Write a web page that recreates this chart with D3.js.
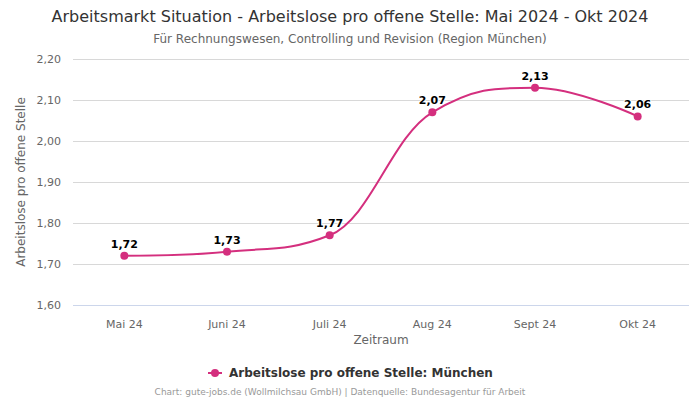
<!DOCTYPE html>
<html><head><meta charset="utf-8">
<script src="https://cdn.jsdelivr.net/npm/d3@7"></script>
<style>body{margin:0;background:#fff;font-family:"DejaVu Sans",sans-serif}</style>
</head><body><svg id="c" width="700" height="400"></svg>
<script>
const categories = ["Mai 24","Juni 24","Juli 24","Aug 24","Sept 24","Okt 24"];
const values = [1.72,1.73,1.77,2.07,2.13,2.06];
const yTicks = [1.6,1.7,1.8,1.9,2.0,2.1,2.2];
const seriesName = "Arbeitslose pro offene Stelle: München";
const color = "#d42f7e";
const fmt = v => d3.format(".2f")(v).replace(".", ",");

const svg = d3.select("#c");
const L=73,R=689,T=59,B=305;
const x = d3.scaleBand().domain(categories).range([L,R]);
const y = d3.scaleLinear().domain([1.6,2.2]).range([B,T]);

svg.append("text").attr("x",350).attr("y",22).attr("text-anchor","middle").attr("font-size",16).attr("fill","#333").text("Arbeitsmarkt Situation - Arbeitslose pro offene Stelle: Mai 2024 - Okt 2024");
svg.append("text").attr("x",350).attr("y",43).attr("text-anchor","middle").attr("font-size",12).attr("fill","#666").text("Für Rechnungswesen, Controlling und Revision (Region München)");

// grid
const yAxis = svg.append("g").attr("transform",`translate(${L},0)`).call(d3.axisLeft(y).tickValues(yTicks).tickSize(-(R-L)).tickFormat(fmt));
yAxis.select(".domain").remove();
yAxis.selectAll("line").attr("stroke","#d8d8d8");
yAxis.selectAll("text").attr("font-size",11).attr("fill","#666").attr("x",-12).attr("font-family","DejaVu Sans");
yAxis.selectAll(".tick").filter(d=>d===1.6).select("line").attr("stroke","#ccd6eb");

const xAxis = svg.append("g").attr("transform",`translate(0,${B})`).call(d3.axisBottom(x).tickSize(0));
xAxis.select(".domain").remove();
xAxis.selectAll("text").attr("font-size",11).attr("fill","#666").attr("y",15).attr("font-family","DejaVu Sans");

svg.append("text").attr("transform","translate(25,182) rotate(-90)").attr("text-anchor","middle").attr("font-size",12).attr("fill","#666").text("Arbeitslose pro offene Stelle");
svg.append("text").attr("x",381).attr("y",344).attr("text-anchor","middle").attr("font-size",12).attr("fill","#666").text("Zeitraum");

// Highcharts-like spline
const pts = values.map((v,i)=>({x:x(categories[i])+x.bandwidth()/2, y:y(v)}));
const sm=1.5, den=2.5;
pts.forEach((p,i)=>{
  if(i>0 && i<pts.length-1){
    const a=pts[i-1], n=pts[i+1];
    let lcx=(sm*p.x+a.x)/den, lcy=(sm*p.y+a.y)/den, rcx=(sm*p.x+n.x)/den, rcy=(sm*p.y+n.y)/den;
    if(rcx!==lcx){const c=((rcy-lcy)*(rcx-p.x))/(rcx-lcx)+p.y-rcy; lcy+=c; rcy+=c;}
    if(lcy>a.y&&lcy>p.y){lcy=Math.max(a.y,p.y);rcy=2*p.y-lcy;}
    else if(lcy<a.y&&lcy<p.y){lcy=Math.min(a.y,p.y);rcy=2*p.y-lcy;}
    if(rcy>n.y&&rcy>p.y){rcy=Math.max(n.y,p.y);lcy=2*p.y-rcy;}
    else if(rcy<n.y&&rcy<p.y){rcy=Math.min(n.y,p.y);lcy=2*p.y-rcy;}
    p.lc=[lcx,lcy]; p.rc=[rcx,rcy];
  } else { p.lc=[p.x,p.y]; p.rc=[p.x,p.y]; }
});
const path=d3.path();
path.moveTo(pts[0].x,pts[0].y);
for(let i=1;i<pts.length;i++){const a=pts[i-1],p=pts[i];path.bezierCurveTo(a.rc[0],a.rc[1],p.lc[0],p.lc[1],p.x,p.y);}
svg.append("path").attr("d",path.toString()).attr("fill","none").attr("stroke",color).attr("stroke-width",2);

svg.selectAll("circle.pt").data(values).join("circle").attr("class","pt")
  .attr("cx",(d,i)=>x(categories[i])+x.bandwidth()/2).attr("cy",d=>y(d)).attr("r",4).attr("fill",color);
svg.selectAll("text.lbl").data(values).join("text").attr("class","lbl")
  .attr("x",(d,i)=>x(categories[i])+x.bandwidth()/2).attr("y",d=>y(d)-8)
  .attr("text-anchor","middle").attr("font-size",11).attr("font-weight","bold").attr("fill","#000")
  .attr("stroke","#fff").attr("stroke-width",2).attr("paint-order","stroke").text(fmt);

// legend
const lg = svg.append("g");
lg.append("line").attr("x1",208).attr("x2",222).attr("y1",373).attr("y2",373).attr("stroke",color).attr("stroke-width",2);
lg.append("circle").attr("cx",215).attr("cy",373).attr("r",4).attr("fill",color);
lg.append("text").attr("x",229).attr("y",377).attr("font-size",12).attr("font-weight","bold").attr("fill","#333").text(seriesName);

svg.append("text").attr("x",340).attr("y",395).attr("text-anchor","middle").attr("font-size",9).attr("fill","#999").text("Chart: gute-jobs.de (Wollmilchsau GmbH) | Datenquelle: Bundesagentur für Arbeit");
</script></body></html>
